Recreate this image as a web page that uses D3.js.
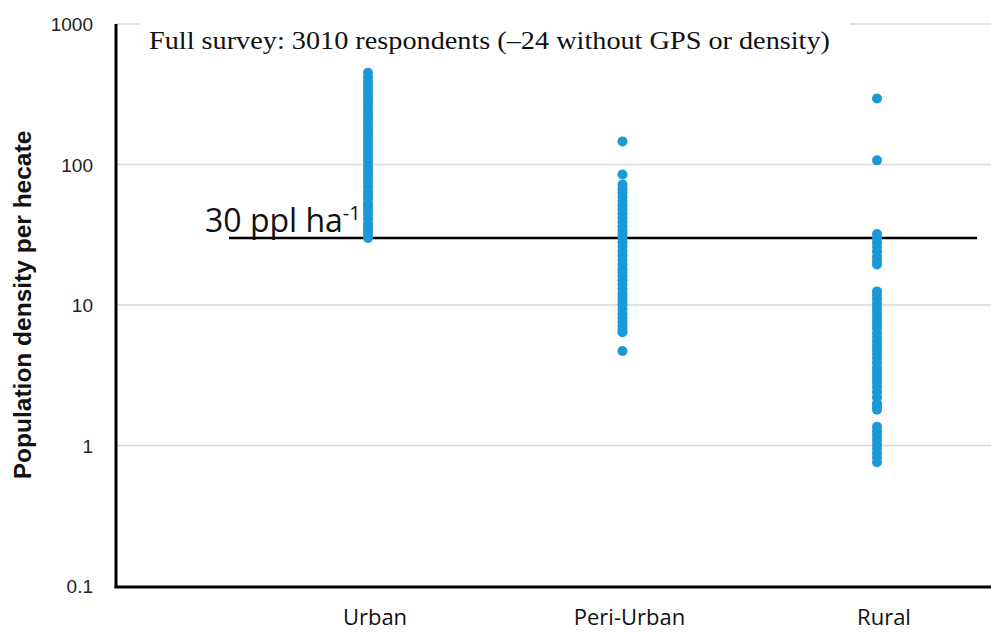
<!DOCTYPE html>
<html>
<head>
<meta charset="utf-8">
<script src="https://cdn.jsdelivr.net/npm/d3@7"></script>
<style>
  body { margin: 0; background: #fff; }
</style>
</head>
<body>
<svg id="chart" width="991" height="633"></svg>
<script>
// categories and densities (people per hectare)
var categories = ['Urban', 'Peri-Urban', 'Rural'];

var urbanDensity = [30, 32, 34, 36, 38, 41, 44, 47, 50, 53, 57, 61, 65, 70, 75, 80, 85, 91, 97,
    104, 110, 118, 126, 135, 144, 154, 165, 176, 188, 200, 214, 229, 245, 262, 280, 300, 320,
    342, 365, 390, 420, 450];

var periUrbanDensity = [146, 85, 72, 67, 63, 59, 55, 51, 48, 45, 42, 39, 36, 34, 32, 30, 28, 26,
    24, 22.5, 21, 19.5, 18, 17, 16, 15, 14, 13, 12, 11.3, 10.6, 10, 9.3, 8.7, 8.1, 7.6, 7.1,
    6.7, 6.4, 4.7];

var ruralDensity = [295, 107, 32, 30, 28, 26, 24, 22, 20.5, 19.4, 12.5, 11.7, 11, 10.2, 9.5,
    8.9, 8.3, 7.8, 7.3, 6.8, 6.3, 5.9, 5.5, 5.1, 4.8, 4.5, 4.2, 3.9, 3.6, 3.4, 3.2, 3.0, 2.8,
    2.6, 2.4, 2.2, 2.0, 1.9, 1.8, 1.36, 1.27, 1.18, 1.1, 1.02, 0.95, 0.88, 0.82, 0.76];

var yTicks = [0.1, 1, 10, 100, 1000];
var threshold = 30;

var titleText = 'Full survey: 3010 respondents (\u201324 without GPS or density)';
var yLabel = 'Population density per hecate';

var series = [urbanDensity, periUrbanDensity, ruralDensity];

var svg = d3.select('#chart');

var x = d3.scalePoint()
    .domain(categories)
    .range([368, 877]);

var y = d3.scaleLog()
    .domain([0.1, 1000])
    .range([586, 24]);

var left = 116, right = 991;

// gridlines
svg.append('g')
    .selectAll('line.grid')
    .data(yTicks.filter(d => d > 0.1))
    .enter().append('line')
        .attr('class', 'grid')
        .attr('x1', left)
        .attr('x2', right)
        .attr('y1', d => y(d))
        .attr('y2', d => y(d))
        .style('stroke', '#d9d9d9')
        .style('stroke-width', 1.5);

// title sits on a white box that hides the top gridline
var titleG = svg.append('g');
titleG.append('rect')
    .attr('x', 140).attr('y', 14)
    .attr('width', 710).attr('height', 44)
    .style('fill', '#fff');
titleG.append('text')
    .attr('x', 149)
    .attr('y', 49)
    .attr('textLength', 681)
    .attr('lengthAdjust', 'spacingAndGlyphs')
    .style('font-family', 'Liberation Serif, DejaVu Serif, serif')
    .style('font-size', '25px')
    .style('fill', '#111')
    .text(titleText);

// y tick labels
svg.append('g')
    .selectAll('text.ytick')
    .data(yTicks)
    .enter().append('text')
        .attr('class', 'ytick')
        .attr('x', 93)
        .attr('y', d => y(d) + 7)
        .attr('text-anchor', 'end')
        .style('font-family', 'Liberation Sans, Arial, sans-serif')
        .style('font-size', '19px')
        .style('fill', '#222')
        .text(d => d);

// y axis title, centred on the 10 gridline
svg.append('text')
    .attr('transform', 'translate(31,' + y(10) + ') rotate(-90)')
    .attr('text-anchor', 'middle')
    .style('font-family', 'Liberation Sans, Arial, sans-serif')
    .style('font-weight', 'bold')
    .style('font-size', '24.5px')
    .style('fill', '#111')
    .text(yLabel);

// threshold line + label
svg.append('line')
    .attr('x1', 229)
    .attr('x2', 977)
    .attr('y1', y(threshold))
    .attr('y2', y(threshold))
    .style('stroke', '#000')
    .style('stroke-width', 2.5);

var thr = svg.append('text')
    .attr('x', 205)
    .attr('y', y(threshold) - 6)
    .style('font-family', 'Open Sans, sans-serif')
    .style('font-size', '32px')
    .style('fill', '#111');
thr.append('tspan').text(threshold + ' ppl ha');
thr.append('tspan')
    .attr('dy', -12)
    .style('font-size', '20px')
    .text('-1');

// dots
svg.append('g')
    .selectAll('g.cat')
    .data(series)
    .enter().append('g')
        .attr('class', 'cat')
        .attr('transform', (d, i) => 'translate(' + x(categories[i]) + ',0)')
    .selectAll('circle')
    .data(d => d)
    .enter().append('circle')
        .attr('cx', 0)
        .attr('cy', d => y(d))
        .attr('r', 5)
        .style('fill', '#1b98d8');

// axes lines
svg.append('line')
    .attr('x1', left).attr('x2', left)
    .attr('y1', 24).attr('y2', 588)
    .style('stroke', '#000')
    .style('stroke-width', 3);
svg.append('line')
    .attr('x1', left - 1.5).attr('x2', right)
    .attr('y1', 587).attr('y2', 587)
    .style('stroke', '#000')
    .style('stroke-width', 3);

// category labels
svg.append('g')
    .selectAll('text.xlab')
    .data(categories)
    .enter().append('text')
        .attr('class', 'xlab')
        .attr('x', d => x(d) + 7)
        .attr('y', 625)
        .attr('text-anchor', 'middle')
        .style('font-family', 'Open Sans, sans-serif')
        .style('font-size', '22px')
        .style('fill', '#111')
        .text(d => d);
</script>
</body>
</html>
